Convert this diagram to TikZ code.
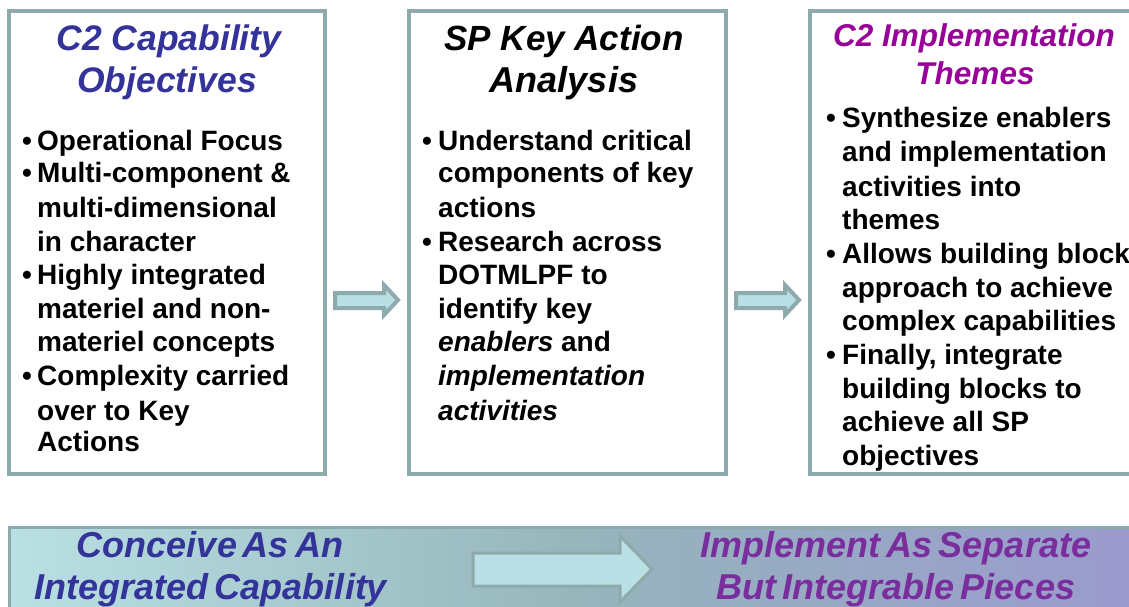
\documentclass[tikz,border=0pt]{standalone}
\usepackage{fontspec}
\setmainfont{Liberation Sans}
\newfontfamily\bandfont[WordSpace=0.6]{Liberation Sans}
\definecolor{edgec}{HTML}{8FAAAC}
\definecolor{fillc}{HTML}{B9E0E4}
\definecolor{bandmid}{HTML}{96B6BC}
\definecolor{bandend}{HTML}{9A9ACD}
\definecolor{bluet}{HTML}{333399}
\definecolor{purpt}{HTML}{990099}
\definecolor{purpb}{HTML}{7A2E9E}
\tikzset{
  panel/.style={draw=edgec,line width=4pt,fill=white},
  blockarrow/.style={draw=edgec,fill=fillc,line join=miter},
  bodyline/.style={anchor=base west,inner sep=0pt,font=\fontsize{28}{30}\selectfont\bfseries,text=black},
  dotm/.style={anchor=base west,inner sep=0pt,font=\fontsize{28}{30}\selectfont\bfseries,text=black},
  titleline/.style={anchor=base,inner sep=0pt,font=\fontsize{35.5}{38}\selectfont\bfseries\itshape},
  themeline/.style={anchor=base,inner sep=0pt,font=\fontsize{31.5}{34}\selectfont\bfseries\itshape},
  bandline/.style={anchor=base,inner sep=0pt,font=\fontsize{36}{38}\bandfont\bfseries\itshape}
}
\begin{document}
\begin{tikzpicture}[x=1pt,y=-1pt]
\useasboundingbox (0,0) rectangle (1129,607);
\clip (0,0) rectangle (1129,607);
\draw[panel] (9,11) rectangle (325,474);
\draw[panel] (409,11) rectangle (726,474);
\draw[panel] (810,11) rectangle (1140,474);
% small arrows
\draw[blockarrow,line width=4pt] (335,293)--(384,293)--(384,285)--(398,300)--(384,315)--(384,308)--(335,308)--cycle;
\draw[blockarrow,line width=4pt] (736,293)--(785,293)--(785,285)--(799,300)--(785,315)--(785,308)--(736,308)--cycle;
% band
\shade[left color=fillc,right color=bandend,middle color=bandmid] (9,527) rectangle (1129,620);
\draw[edgec,line width=3pt] (9,620)--(9,527)--(1140,527);
\draw[blockarrow,line width=3pt] (473,553)--(620,553)--(620,536)--(652,569)--(620,602)--(620,586)--(473,586)--cycle;
% column 1
\node[titleline,text=bluet] (t1a) at (169,51) {C2 Capability};
\node[titleline,text=bluet] (t1b) at (167,93) {Objectives};
\foreach \n/\y in {a/150,b/182,c/284,d/385}{\node[dotm] (d1\n) at (22,\y) {•};}
\foreach \n/\y/\s in {a/150/Operational Focus,b/182/Multi-component \&,c/217/multi-dimensional,d/251/in character,e/284/Highly integrated,f/318/materiel and non-,g/351/materiel concepts,h/385/Complexity carried,i/420/over to Key,j/451/Actions}{\node[bodyline] (l1\n) at (37,\y) {\s};}
% column 2
\node[titleline,text=black,font=\fontsize{35}{38}\selectfont\bfseries\itshape] (t2a) at (564,51) {SP Key Action};
\node[titleline,text=black,font=\fontsize{36}{38}\selectfont\bfseries\itshape] (t2b) at (564,93) {Analysis};
\foreach \n/\y in {a/150,b/251}{\node[dotm] (d2\n) at (422,\y) {•};}
\foreach \n/\y/\s in {a/150/Understand critical,b/182/components of key,c/217/actions,d/251/Research across,e/284/DOTMLPF to,f/318/identify key,g/351/{\textit{enablers} and},h/385/\textit{implementation},i/420/\textit{activities}}{\node[bodyline] (l2\n) at (438,\y) {\s};}
% column 3
\node[themeline,text=purpt] (t3a) at (974,47) {C2 Implementation};
\node[themeline,text=purpt] (t3b) at (975,85) {Themes};
\foreach \n/\y in {a/128,b/263,c/364}{\node[dotm] (d3\n) at (826,\y) {•};}
\foreach \n/\y/\s in {a/128/Synthesize enablers,b/161/and implementation,c/196/activities into,d/229/themes,e/263/Allows building block,f/297/approach to achieve,g/330/complex capabilities,h/364/{Finally, integrate},i/398/building blocks to,j/431/achieve all SP,k/465/objectives}{\node[bodyline] (l3\n) at (842,\y) {\s};}
% band text
\node[bandline,text=bluet] (b1) at (210,557) {Conceive As An};
\node[bandline,text=bluet] (b2) at (211,599) {Integrated Capability};
\node[bandline,text=purpb] (b3) at (896,557) {Implement As Separate};
\node[bandline,text=purpb] (b4) at (896,599) {But Integrable Pieces};
\end{tikzpicture}
\end{document}
